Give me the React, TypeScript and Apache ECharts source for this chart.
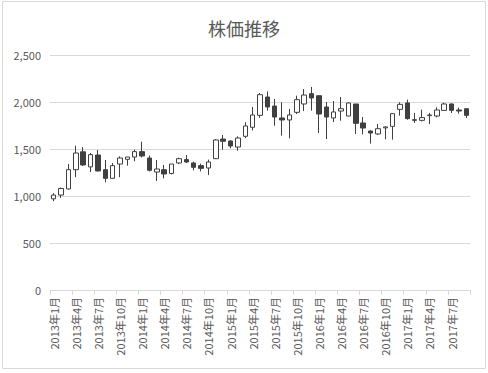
import React, { useEffect, useRef } from "react";
import * as echarts from "echarts";

const categories = [
  "2013年1月","2013年2月","2013年3月","2013年4月","2013年5月","2013年6月","2013年7月","2013年8月","2013年9月","2013年10月","2013年11月","2013年12月",
  "2014年1月","2014年2月","2014年3月","2014年4月","2014年5月","2014年6月","2014年7月","2014年8月","2014年9月","2014年10月","2014年11月","2014年12月",
  "2015年1月","2015年2月","2015年3月","2015年4月","2015年5月","2015年6月","2015年7月","2015年8月","2015年9月","2015年10月","2015年11月","2015年12月",
  "2016年1月","2016年2月","2016年3月","2016年4月","2016年5月","2016年6月","2016年7月","2016年8月","2016年9月","2016年10月","2016年11月","2016年12月",
  "2017年1月","2017年2月","2017年3月","2017年4月","2017年5月","2017年6月","2017年7月","2017年8月","2017年9月",
];

const opens = [970,1010,1075,1280,1470,1310,1436,1280,1188,1340,1390,1415,1472,1404,1255,1280,1240,1351,1387,1351,1323,1298,1397,1606,1585,1521,1635,1731,1858,2053,1957,1830,1809,1890,1979,2089,2067,1947,1830,1904,1851,1979,1777,1691,1660,1725,1741,1922,1990,1812,1805,1855,1851,1911,1979,1915,1929];
const closes = [1010,1080,1280,1457,1330,1440,1266,1188,1323,1404,1415,1472,1426,1273,1287,1234,1340,1397,1362,1305,1294,1362,1596,1582,1532,1617,1745,1862,2078,1947,1840,1809,1862,2025,2074,2043,1872,1840,1894,1929,1990,1773,1723,1670,1716,1735,1876,1975,1823,1805,1834,1862,1915,1979,1911,1904,1858];
const lows = [945,980,1070,1200,1320,1255,1262,1145,1185,1200,1323,1369,1410,1262,1160,1188,1230,1340,1351,1273,1262,1223,1394,1493,1507,1482,1617,1698,1830,1908,1748,1642,1613,1872,1904,1908,1670,1606,1787,1801,1848,1660,1656,1557,1649,1603,1600,1855,1812,1777,1794,1766,1837,1904,1883,1876,1830];
const highs = [1030,1090,1340,1535,1520,1457,1490,1383,1351,1422,1415,1493,1578,1430,1383,1330,1340,1408,1436,1365,1344,1387,1606,1649,1592,1635,1784,1947,2096,2113,2032,1997,1926,2067,2138,2160,2067,2000,2011,2053,1997,1979,1840,1699,1766,1741,1876,1997,2025,1883,1919,1883,1943,1993,1986,1940,1929];

const title = "株価推移";
const yMin = 0;
const yMax = 2500;
const yInterval = 500;

export default function App() {
  const ref = useRef<HTMLDivElement>(null);
  useEffect(() => {
    document.body.style.margin = "0";
    if (!ref.current) return;
    const chart = echarts.init(ref.current, undefined, { renderer: "svg" });
    const data = opens.map((o, i) => [o, closes[i], lows[i], highs[i]]);
    const font = "'Noto Sans CJK JP', 'Noto Sans', sans-serif";
    chart.setOption({
      animation: false,
      backgroundColor: "#ffffff",
      textStyle: { fontFamily: font },
      title: {
        text: title,
        left: "center",
        top: 14,
        textStyle: { color: "#595959", fontSize: 18, fontWeight: "normal", fontFamily: font },
      },
      graphic: [
        {
          type: "rect",
          shape: { x: 2.5, y: 1.5, width: 483, height: 367 },
          style: { fill: "none", stroke: "#d9d9d9", lineWidth: 1 },
          silent: true,
        },
      ],
      grid: { left: 50, right: 18, top: 55, bottom: 83 },
      xAxis: {
        type: "category",
        data: categories,
        boundaryGap: true,
        axisLine: { show: true, lineStyle: { color: "#d9d9d9", width: 1 } },
        axisTick: { show: true, interval: 2, length: 5, alignWithLabel: false, lineStyle: { color: "#d9d9d9" } },
        axisLabel: { interval: 2, rotate: 90, color: "#595959", fontSize: 11, margin: 7, fontFamily: font },
        splitLine: { show: false },
      },
      yAxis: {
        type: "value",
        min: yMin,
        max: yMax,
        interval: yInterval,
        axisLine: { show: false },
        axisTick: { show: false },
        axisLabel: {
          color: "#595959",
          fontSize: 11,
          margin: 9,
          fontFamily: font,
          formatter: (v: number) => v.toLocaleString("en-US"),
        },
        splitLine: { lineStyle: { color: "#d9d9d9", width: 1 } },
      },
      series: [
        {
          type: "candlestick",
          data,
          barWidth: 5,
          itemStyle: {
            color: "#ffffff",
            color0: "#404040",
            borderColor: "#404040",
            borderColor0: "#404040",
            borderWidth: 1,
          },
        },
      ],
    });
    return () => chart.dispose();
  }, []);
  return <div ref={ref} style={{ width: 488, height: 373 }} />;
}
